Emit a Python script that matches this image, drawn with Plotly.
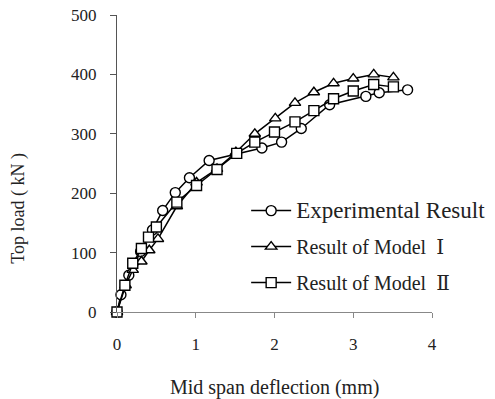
import plotly.graph_objects as go

# Experimental result (circles)
exp_x = [0, 0.05, 0.15, 0.30, 0.45, 0.58, 0.74, 0.92, 1.17, 1.84, 2.09, 2.34, 2.70, 3.16, 3.33, 3.69]
exp_y = [0, 29, 62, 102, 138, 171, 201, 226, 255, 276, 286, 309, 349, 363, 369, 374]

# Result of Model I (triangles)
m1_x = [0, 0.11, 0.20, 0.31, 0.41, 0.52, 0.76, 1.01, 1.27, 1.51, 1.75, 2.01, 2.26, 2.50, 2.75, 3.00, 3.26, 3.51]
m1_y = [0, 45, 71, 85, 104, 123, 178, 218, 241, 269, 300, 326, 352, 370, 385, 393, 400, 395]

# Result of Model II (squares)
m2_x = [0, 0.10, 0.20, 0.31, 0.40, 0.50, 0.76, 1.01, 1.27, 1.52, 1.75, 2.00, 2.26, 2.50, 2.75, 3.00, 3.26, 3.51]
m2_y = [0, 45, 82, 107, 126, 143, 185, 213, 240, 267, 286, 303, 320, 339, 359, 372, 383, 379]

x_ticks = [0, 1, 2, 3, 4]
y_ticks = [0, 100, 200, 300, 400, 500]

FONT = "Liberation Serif, Times New Roman, serif"
NUM = "<span style=\"font-family:'DejaVu Serif'\">{}</span>"

fig = go.Figure()

def add(x, y, name, symbol, size, group):
    fig.add_trace(go.Scatter(
        x=x, y=y, name=name, mode="lines+markers", legendgroup=group,
        cliponaxis=False,
        line=dict(color="black", width=1.5),
        marker=dict(symbol=symbol, size=size, color="white",
                    line=dict(color="black", width=1.4)),
    ))

add(exp_x, exp_y, '<span style="font-size:23px">Experimental Result</span>', "circle", 10, "a")
add(m1_x, m1_y, "Result of Model  " + NUM.format("Ⅰ"), "triangle-up", 10, "b")
add(m2_x, m2_y, "Result of Model  " + NUM.format("Ⅱ"), "square", 10, "c")

fig.update_layout(
    width=495, height=399,
    margin=dict(l=117, r=63, t=15, b=87, autoexpand=False),
    paper_bgcolor="white", plot_bgcolor="white",
    font=dict(family=FONT, size=15, color="#222"),
    showlegend=True,
    legend=dict(x=0.41, y=0.407, xanchor="left", yanchor="top",
                bgcolor="rgba(0,0,0,0)", font=dict(size=20),
                tracegroupgap=7, traceorder="grouped", itemwidth=40),
    xaxis=dict(range=[0, 4], tickvals=x_ticks, showgrid=False, zeroline=False,
               showline=True, linecolor="#888", linewidth=1,
               ticks="outside", ticklen=5, tickcolor="#888",
               ticklabelstandoff=12, tickfont=dict(size=17)),
    yaxis=dict(range=[0, 500], tickvals=y_ticks, showgrid=False, zeroline=False,
               showline=True, linecolor="#555", linewidth=1,
               ticks="outside", ticklen=6, tickcolor="#555",
               ticklabelstandoff=10, tickfont=dict(size=17)),
    annotations=[
        dict(text="Mid span deflection (mm)", xref="paper", yref="paper",
             x=0.5, y=-0.253, xanchor="center", yanchor="middle",
             showarrow=False, font=dict(size=20)),
        dict(text="Top load ( kN )", xref="paper", yref="paper",
             x=-0.315, y=0.35, xanchor="center", yanchor="middle",
             textangle=-90, showarrow=False, font=dict(size=18)),
    ],
)

fig.write_html("out.html")
